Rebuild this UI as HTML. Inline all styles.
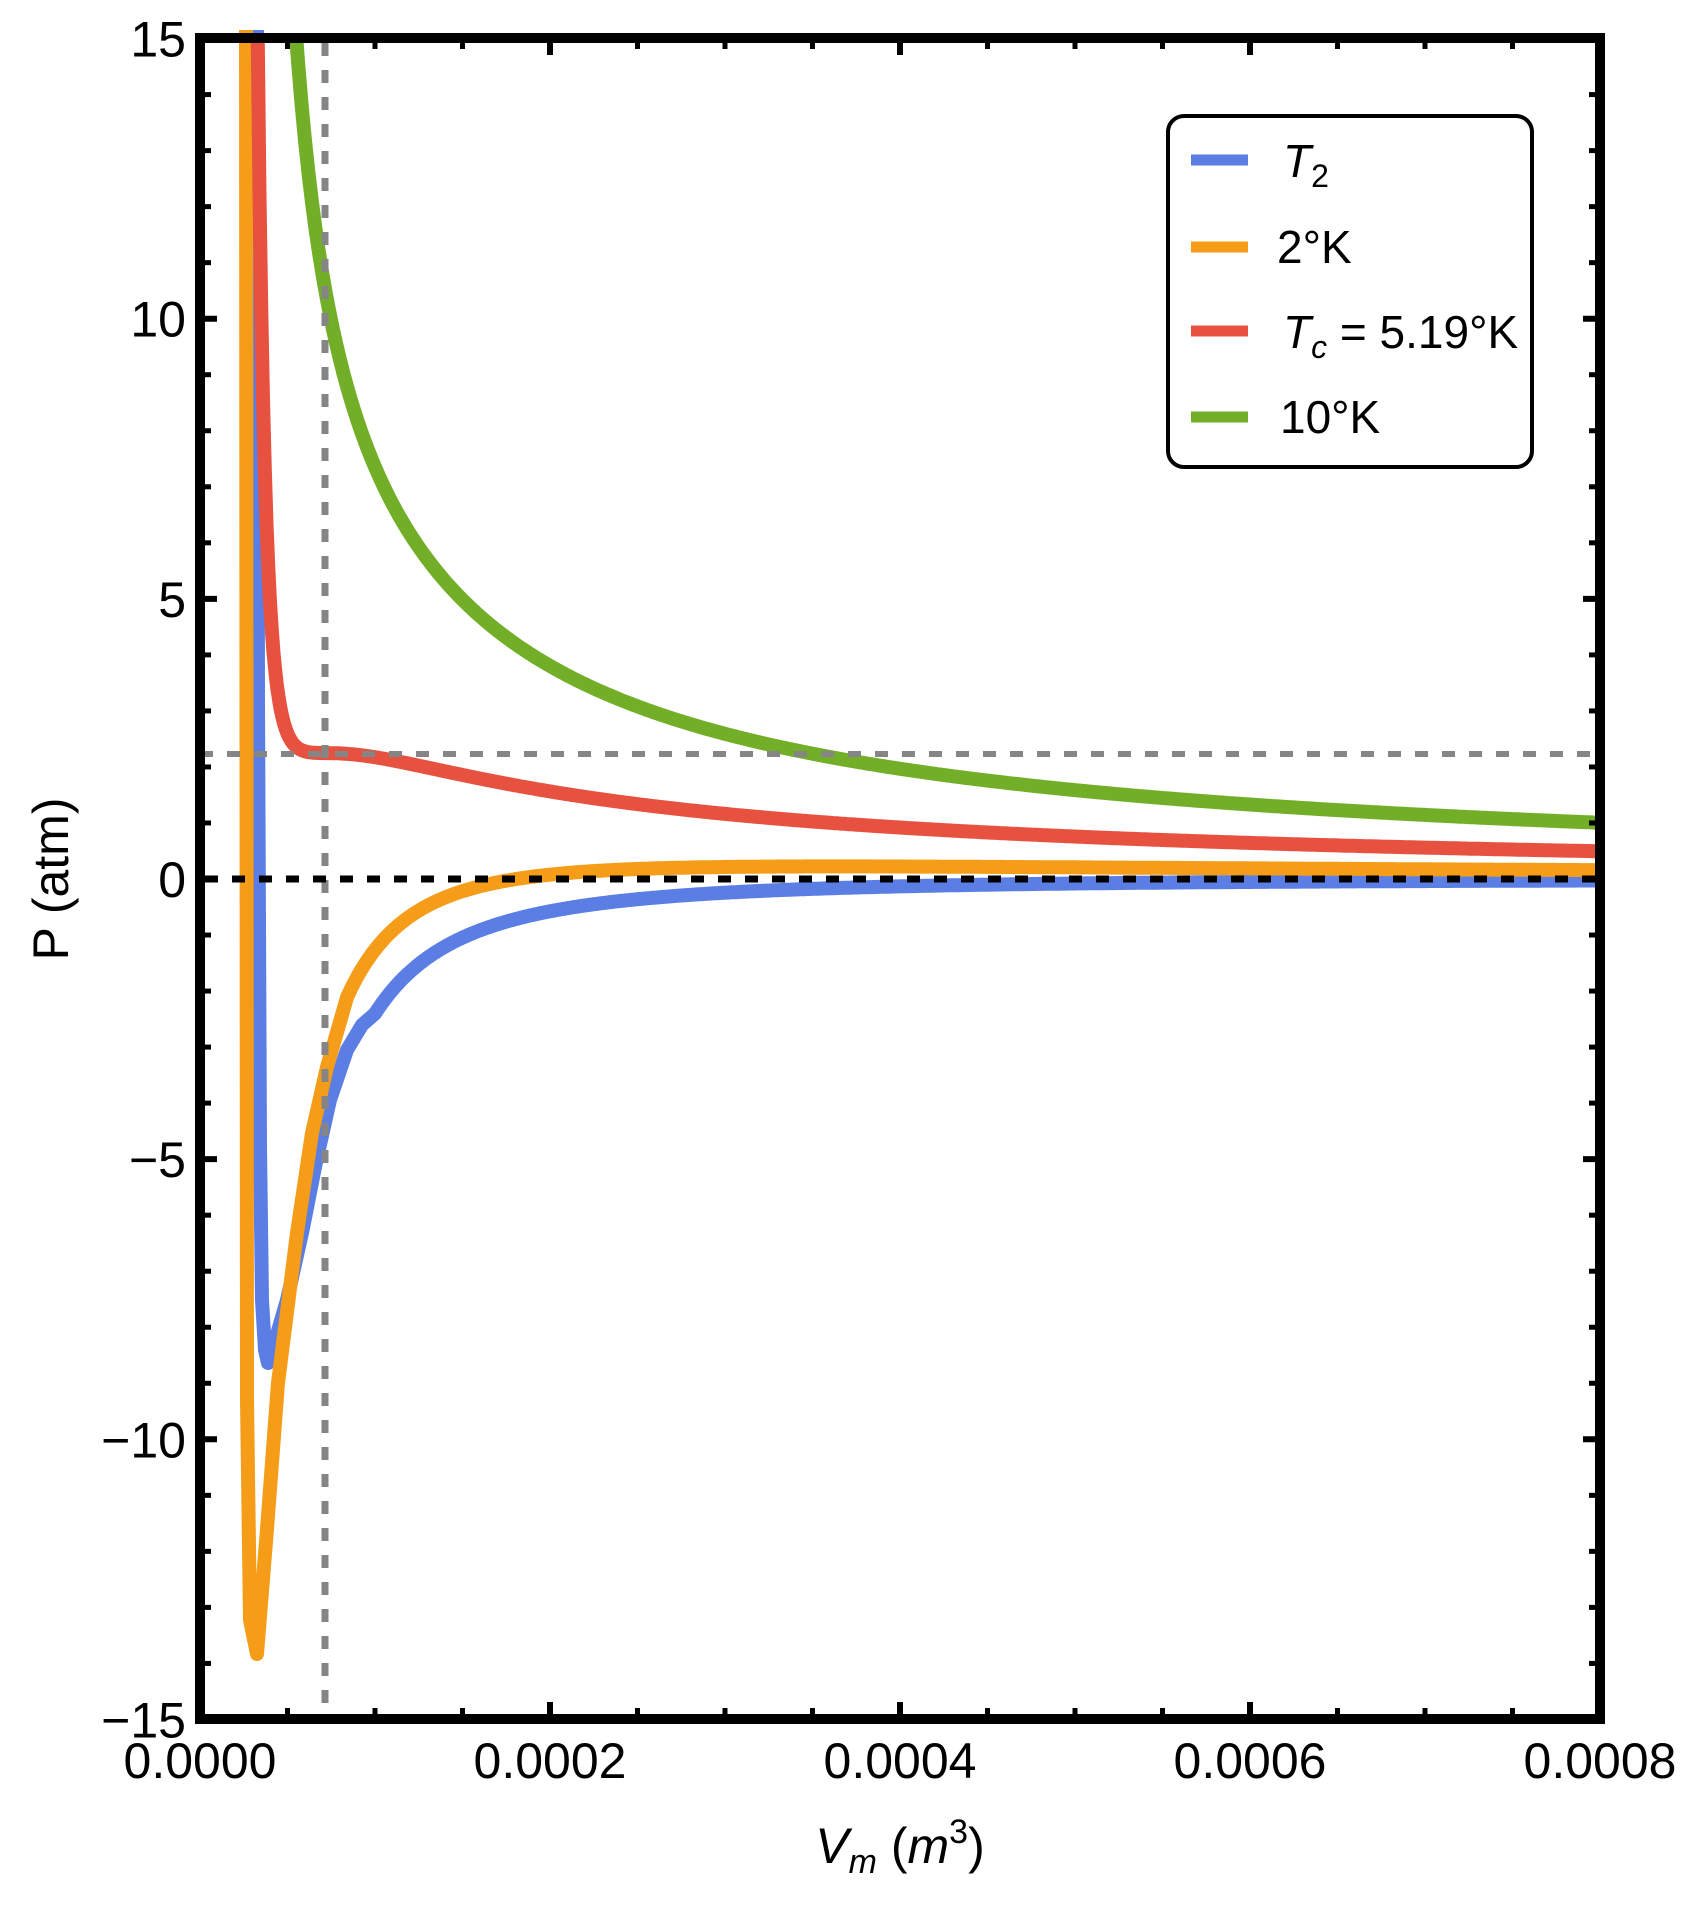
<!DOCTYPE html>
<html><head><meta charset="utf-8"><style>
html,body{margin:0;padding:0;background:#fff;}
svg{display:block;}
text{font-family:"Liberation Sans",sans-serif;fill:#000;}
</style></head><body>
<svg id="s" width="1696" height="1909" viewBox="0 0 1696 1909" xmlns="http://www.w3.org/2000/svg">
<g id="curves" fill="none" stroke-width="14" stroke-linejoin="round"></g>
<line x1="200" y1="754" x2="1600" y2="754" stroke="#858585" stroke-width="6" stroke-dasharray="13 14"/>
<line x1="325" y1="43" x2="325" y2="1715" stroke="#858585" stroke-width="7" stroke-dasharray="13 14"/>
<line x1="205" y1="879" x2="1600" y2="879" stroke="#000" stroke-width="7" stroke-dasharray="13 14"/>
<g id="ticks" stroke="#000"></g>
<rect x="200" y="38" width="1400" height="1681" fill="none" stroke="#000" stroke-width="10"/>
<g id="labels" font-size="50"></g>
<text x="0" y="0" font-size="50" text-anchor="middle" transform="translate(68,879) rotate(-90)">P (atm)</text>
<text x="900" y="1863" font-size="50" text-anchor="middle"><tspan font-style="italic">V</tspan><tspan font-style="italic" font-size="34" dy="10">m</tspan><tspan dy="-10"> (</tspan><tspan font-style="italic">m</tspan><tspan font-size="34" dy="-20">3</tspan><tspan dy="20">)</tspan></text>
<rect x="1168" y="116" width="364" height="351" rx="16" fill="#fff" stroke="#000" stroke-width="4"/>
<g stroke-width="11">
<line x1="1191" y1="160" x2="1248" y2="160" stroke="#5a7ee3"/>
<line x1="1191" y1="247" x2="1248" y2="247" stroke="#f59c18"/>
<line x1="1191" y1="331" x2="1248" y2="331" stroke="#e75240"/>
<line x1="1191" y1="417" x2="1248" y2="417" stroke="#72ae28"/>
</g>
<g font-size="46">
<text x="1283" y="177"><tspan font-style="italic">T</tspan><tspan font-size="32" dy="10">2</tspan></text>
<text x="1277" y="263">2°K</text>
<text x="1283" y="348"><tspan font-style="italic">T</tspan><tspan font-size="32" font-style="italic" dy="10">c</tspan><tspan dy="-10"> = 5.19°K</tspan></text>
<text x="1280" y="433">10°K</text>
</g>
</svg>
<script>
var NS="http://www.w3.org/2000/svg";
function X(V){return 200+V*175;}
function Y(P){return 879-P*56.03;}
var b=0.238;
function vdw(T){return function(V){return 0.8205*T/(V-b)-3.415/(V*V);};}
function path(color,pre,f,Vstart){
  var pts=pre.slice();
  for(var V=Vstart;V<=8.0001;V+=0.01){var P=f(V);if(P>15.3)continue;pts.push([X(V),Y(P)]);}
  var d="M"+pts.map(function(p){return p[0].toFixed(1)+","+p[1].toFixed(1);}).join("L");
  var e=document.createElementNS(NS,"path");e.setAttribute("d",d);e.setAttribute("stroke",color);
  document.getElementById("curves").appendChild(e);
}
var blue=function(V){return 0.102/(V-b)-2.537/(V*V);};
path("#5a7ee3",[[257,30],[258,700],[260,1146],[262,1300],[265,1350],[268,1363],[274,1345],[287,1300],[302,1233],[315,1167],[330,1100],[347,1050],[362,1025]],blue,1.0);
path("#f59c18",[[246,30],[247,1400],[250,1620],[257,1654],[267,1529],[278,1383],[297,1233],[312,1133],[327,1067]],vdw(2),0.84);
path("#e75240",[],vdw(5.19),0.3);
path("#72ae28",[],vdw(10),0.5);
var tg=document.getElementById("ticks"),lg=document.getElementById("labels");
function ln(x1,y1,x2,y2,w){var l=document.createElementNS(NS,"line");l.setAttribute("x1",x1);l.setAttribute("y1",y1);l.setAttribute("x2",x2);l.setAttribute("y2",y2);l.setAttribute("stroke-width",w);tg.appendChild(l);}
function tx(x,y,s,a){var t=document.createElementNS(NS,"text");t.setAttribute("x",x);t.setAttribute("y",y);t.setAttribute("text-anchor",a);t.textContent=s;lg.appendChild(t);}
for(var p=-15;p<=15;p++){var y=Y(p);var maj=(p%5===0);var L=maj?12:6;
  ln(200,y,205+L,y,maj?6:5);ln(1600,y,1595-L,y,maj?6:5);
  if(maj){tx(186,y+18,(p<0?"\u2212":"")+Math.abs(p),"end");}}
for(var i=0;i<=16;i++){var x=200+i*87.5;var maj=(i%4===0);var L=maj?12:6;
  ln(x,1719,x,1714-L,maj?6:5);ln(x,38,x,43+L,maj?6:5);
  if(maj){tx(x,1778,(i/4*0.0002).toFixed(4),"middle");}}
</script>
</body></html>
